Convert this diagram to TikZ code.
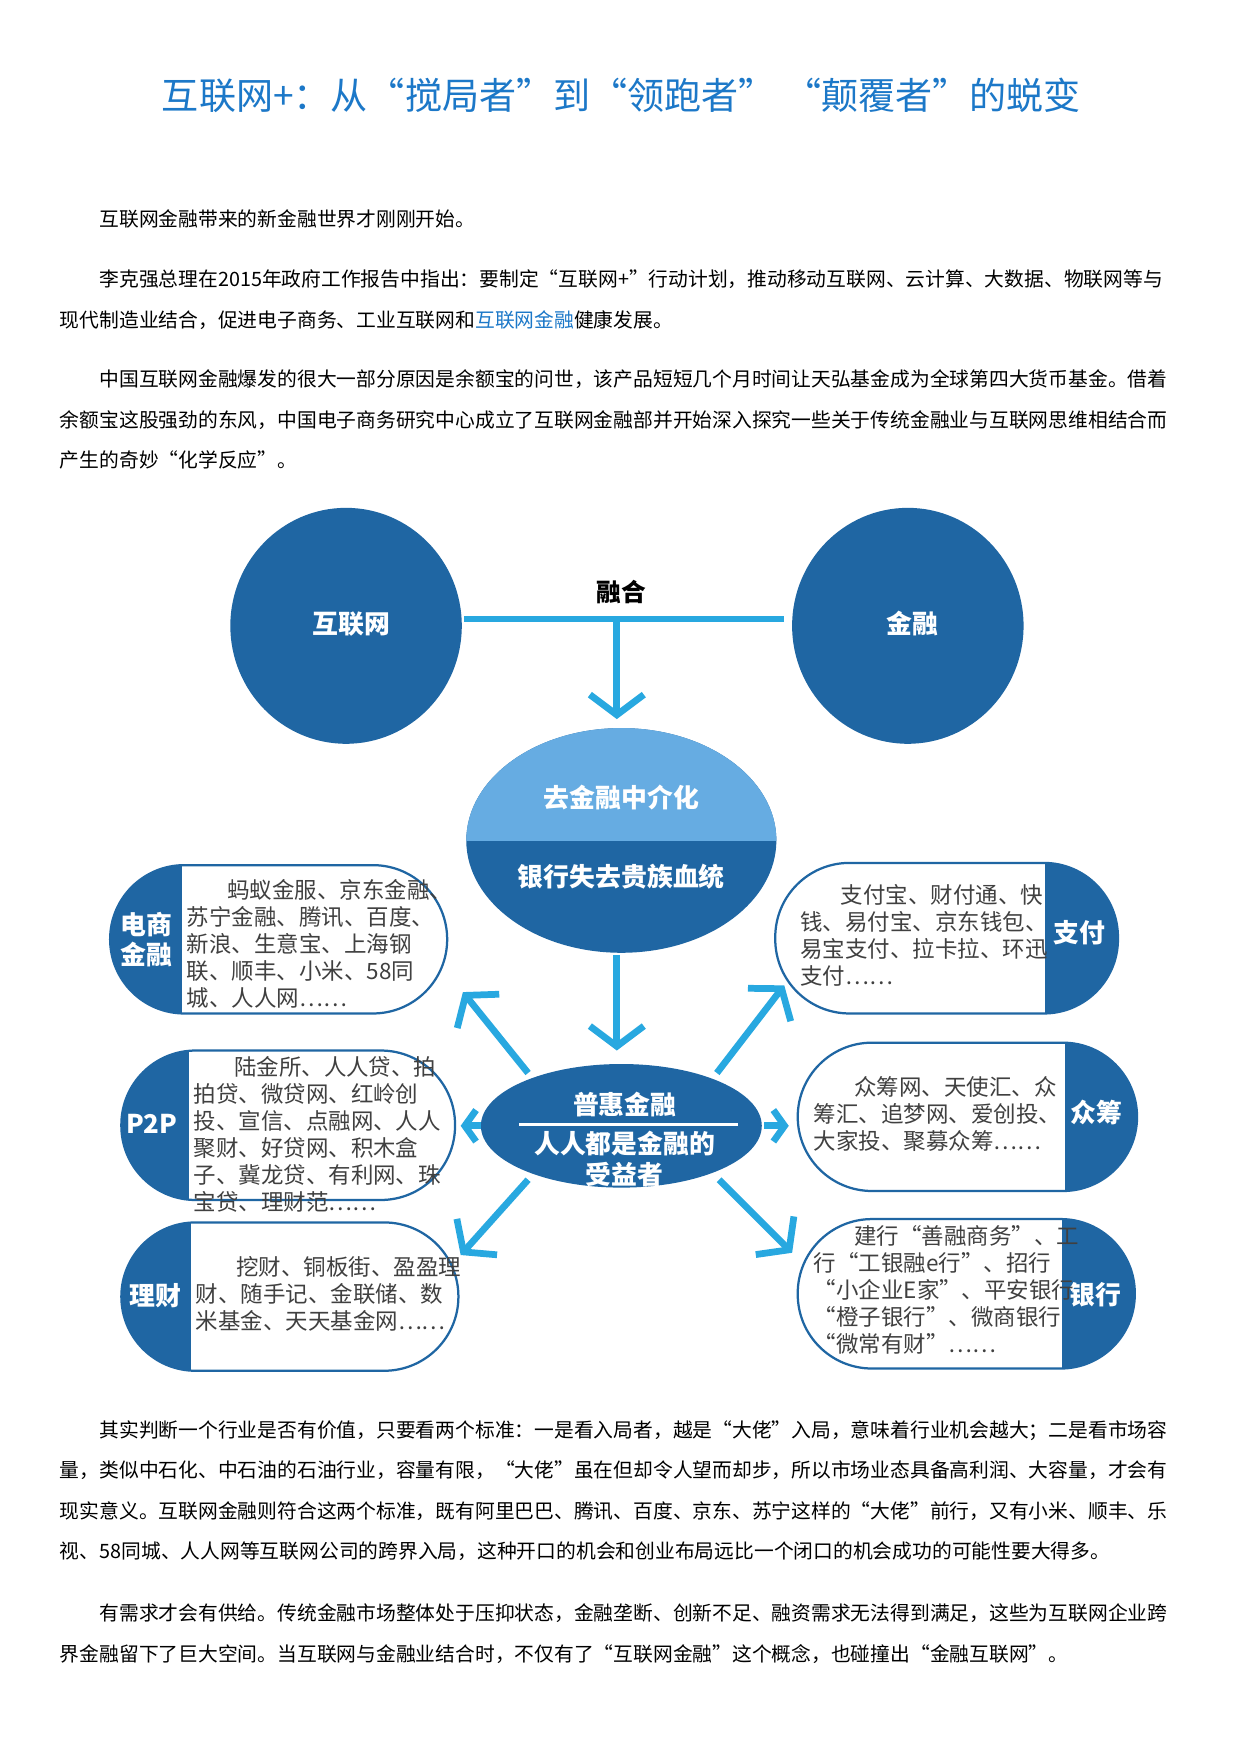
\documentclass[tikz,border=0pt]{standalone}
\usepackage{fontspec}
\setmainfont{Noto Sans CJK SC}
\usetikzlibrary{arrows.meta,positioning,calc}
\definecolor{darkblue}{RGB}{31,102,163}
\definecolor{lightblue}{RGB}{102,172,226}
\definecolor{arrowblue}{RGB}{40,168,224}
\definecolor{titleblue}{RGB}{28,120,200}
\tikzset{bigarrow/.style={arrowblue,line width=3pt,-{Straight Barb[length=9pt,width=24pt,line width=3pt]}},
  para/.style={anchor=north west,text width=500pt,align=justify,font=\fontsize{8.8}{18}\selectfont,inner sep=0pt},
  boxtext/.style={anchor=north west,align=left,font=\fontsize{10}{12}\selectfont,text=black!75,inner sep=0pt},
  boxlabel/.style={text=white,font=\bfseries\fontsize{11.5}{13.5}\selectfont,align=center}}
% stadium box: x1,y1,x2,y2,divider,left dark?
\newcommand\infobox[6]{%
  \fill[white] (#1,#2) [rounded corners=33pt] rectangle (#3,#4);
  \begin{scope}
    \clip[rounded corners=33pt] (#1,#2) rectangle (#3,#4);
    \ifnum#6=1 \fill[darkblue] (#1,#2) rectangle (#5,#4);
    \else \fill[darkblue] (#5,#2) rectangle (#3,#4); \fi
  \end{scope}
  \draw[darkblue,line width=1pt,rounded corners=33pt] (#1,#2) rectangle (#3,#4);}
\begin{document}
\begin{tikzpicture}[x=0.5pt,y=-0.5pt]
\path[use as bounding box,fill=white] (0,0) rectangle (1105,1562);
% title and text above
\node[titleblue,font=\fontsize{16.5}{18}\selectfont] (title) at (553,85) {互联网+：从“搅局者”到“领跑者”\ “颠覆者”的蜕变};
\node[para] (p1) at (53,186) {\hspace*{2em}互联网金融带来的新金融世界才刚刚开始。};
\node[para] (p2) at (53,240) {\hspace*{2em}李克强总理在2015年政府工作报告中指出：要制定“互联网+”行动计划，推动移动互联网、云计算、大数据、物联网等与\linebreak 现代制造业结合，促进电子商务、工业互联网和{\color{titleblue}互联网金融}健康发展。};
\node[para] (p3) at (53,329) {\hspace*{2em}中国互联网金融爆发的很大一部分原因是余额宝的问世，该产品短短几个月时间让天弘基金成为全球第四大货币基金。借着\linebreak 余额宝这股强劲的东风，中国电子商务研究中心成立了互联网金融部并开始深入探究一些关于传统金融业与互联网思维相结合而\linebreak 产生的奇妙“化学反应”。};
% top circles
\fill[darkblue] (308,557) ellipse (103 and 105);
\node[boxlabel] (net) at (313,555) {互联网};
\fill[darkblue] (808,557) ellipse (103 and 105);
\node[boxlabel] (fin) at (812,555) {金融};
\draw[arrowblue,line width=3pt] (413,551) -- coordinate (mix) (698,551);
\node[font=\bfseries\fontsize{11}{13}\selectfont] (ronghe) at (553,527) {融合};
\draw[bigarrow] (549,551) -- (549,640);
% middle circle
\fill[darkblue] (553,748) ellipse (138 and 100);
\begin{scope}
  \clip (400,640) rectangle (710,748);
  \fill[lightblue] (553,748) ellipse (138 and 100);
\end{scope}
\node[boxlabel] (dis) at (553,710) {去金融中介化};
\node[boxlabel] (bank0) at (553,780) {银行失去贵族血统};
\draw[bigarrow] (549,850) -- (549,935);
% hub
\fill[darkblue] (553,1002) ellipse (125 and 55);
\node[boxlabel] (hub) at (556,983) {普惠金融};
\draw[white,line width=1.2pt] (462,1001) -- (657,1001);
\node[boxlabel] (hub2) at (556,1018) {人人都是金融的};
\node[boxlabel] (hub3) at (556,1045) {受益者};
% spokes
\draw[bigarrow] (470,955) -- (412,883);
\draw[bigarrow] (638,955) -- (698,877);
\draw[bigarrow,-{Straight Barb[length=5pt,width=14pt,line width=3pt]}] (428,1002) -- (410,1002);
\draw[bigarrow,-{Straight Barb[length=5pt,width=14pt,line width=3pt]}] (680,1002) -- (702,1002);
\draw[bigarrow] (470,1050) -- (410,1117);
\draw[bigarrow] (640,1050) -- (705,1115);
% left boxes
\infobox{98}{770}{398}{902}{162}{1}
\node[boxlabel] (ds) at (130,836) {电商\\金融};
\node[boxtext] (dst) at (166,782) {\hspace*{1.8em}蚂蚁金服、京东金融、\\苏宁金融、腾讯、百度、\\新浪、生意宝、上海钢\\联、顺丰、小米、58同\\城、人人网……};
\infobox{108}{935}{405}{1068}{168}{1}
\node[boxlabel] (p2p) at (135,1000) {P2P};
\node[boxtext] (p2pt) at (172,940) {\hspace*{1.8em}陆金所、人人贷、拍\\拍贷、微贷网、红岭创\\投、宣信、点融网、人人\\聚财、好贷网、积木盒\\子、冀龙贷、有利网、珠\\宝贷、理财范……};
\infobox{108}{1088}{408}{1220}{170}{1}
\node[boxlabel] (lc) at (138,1153) {理财};
\node[boxtext] (lct) at (174,1118) {\hspace*{1.8em}挖财、铜板街、盈盈理\\财、随手记、金联储、数\\米基金、天天基金网……};
% right boxes
\infobox{690}{768}{995}{902}{930}{0}
\node[boxlabel] (zf) at (961,830) {支付};
\node[boxtext] (zft) at (712,787) {\hspace*{1.8em}支付宝、财付通、快\\钱、易付宝、京东钱包、\\易宝支付、拉卡拉、环迅\\支付……};
\infobox{710}{928}{1012}{1060}{948}{0}
\node[boxlabel] (zc) at (976,990) {众筹};
\node[boxtext] (zct) at (724,958) {\hspace*{1.8em}众筹网、天使汇、众\\筹汇、追梦网、爱创投、\\大家投、聚募众筹……};
\infobox{710}{1085}{1010}{1218}{945}{0}
\node[boxlabel] (yh) at (975,1152) {银行};
\node[boxtext] (yht) at (724,1090) {\hspace*{1.8em}建行“善融商务”、工\\行“工银融e行”、招行\\“小企业E家”、平安银行\\“橙子银行”、微商银行\\“微常有财”……};
% text below
\node[para] (p4) at (53,1264) {\hspace*{2em}其实判断一个行业是否有价值，只要看两个标准：一是看入局者，越是“大佬”入局，意味着行业机会越大；二是看市场容\linebreak 量，类似中石化、中石油的石油行业，容量有限，“大佬”虽在但却令人望而却步，所以市场业态具备高利润、大容量，才会有\linebreak 现实意义。互联网金融则符合这两个标准，既有阿里巴巴、腾讯、百度、京东、苏宁这样的“大佬”前行，又有小米、顺丰、乐\linebreak 视、58同城、人人网等互联网公司的跨界入局，这种开口的机会和创业布局远比一个闭口的机会成功的可能性要大得多。};
\node[para] (p5) at (53,1427) {\hspace*{2em}有需求才会有供给。传统金融市场整体处于压抑状态，金融垄断、创新不足、融资需求无法得到满足，这些为互联网企业跨\linebreak 界金融留下了巨大空间。当互联网与金融业结合时，不仅有了“互联网金融”这个概念，也碰撞出“金融互联网”。};
\end{tikzpicture}
\end{document}
